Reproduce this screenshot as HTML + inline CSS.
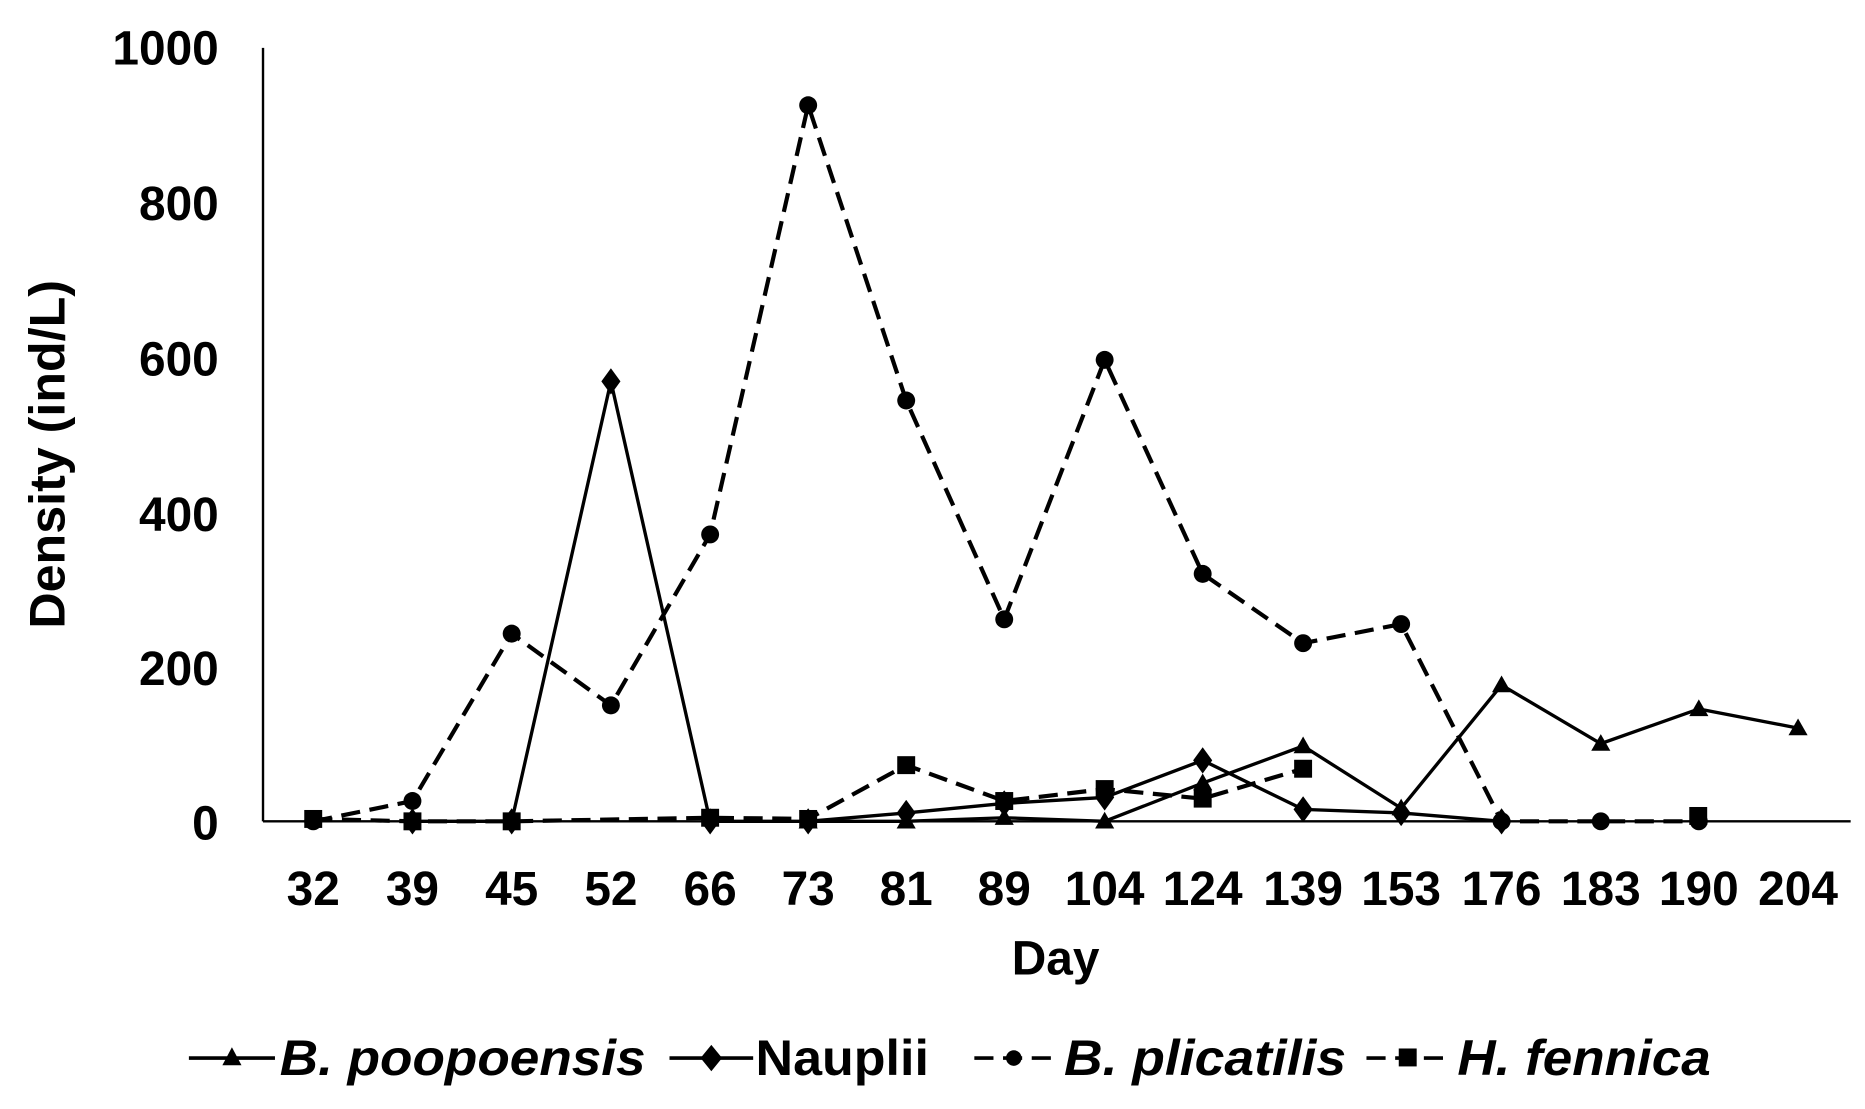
<!DOCTYPE html>
<html><head><meta charset="utf-8"><style>html,body{margin:0;padding:0;background:#fff}svg{display:block}</style></head>
<body>
<svg width="1865" height="1109" viewBox="0 0 1560 927.6" xmlns="http://www.w3.org/2000/svg" font-family="Liberation Sans, Arial, sans-serif" font-weight="bold">
<defs>
<marker id="tri" markerWidth="18" markerHeight="18" refX="9" refY="9" markerUnits="userSpaceOnUse"><path d="M9 1 L17 15 L1 15 Z" fill="#000"/></marker>
<marker id="dia" markerWidth="22" markerHeight="22" refX="11" refY="11" markerUnits="userSpaceOnUse"><path d="M11 0 L19 11 L11 22 L3 11 Z" fill="#000"/></marker>
<marker id="cir" markerWidth="18" markerHeight="18" refX="9" refY="9" markerUnits="userSpaceOnUse"><circle cx="9" cy="9" r="7.5" fill="#000"/></marker>
<marker id="sq" markerWidth="18" markerHeight="18" refX="9" refY="9" markerUnits="userSpaceOnUse"><rect x="1.5" y="1.5" width="15" height="15" fill="#000"/></marker>
</defs>
<g stroke="#000" stroke-width="2" fill="none">
<line x1="220" y1="40" x2="220" y2="687"/>
<line x1="220" y1="687" x2="1548" y2="687"/>
</g>
<g font-size="40" text-anchor="end">
<text x="183" y="54">1000</text><text x="183" y="184">800</text><text x="183" y="314">600</text>
<text x="183" y="444">400</text><text x="183" y="573">200</text><text x="183" y="702">0</text>
</g>
<g font-size="40" text-anchor="middle">
<text x="262" y="757">32</text><text x="345" y="757">39</text><text x="428" y="757">45</text><text x="511" y="757">52</text>
<text x="594" y="757">66</text><text x="676" y="757">73</text><text x="758" y="757">81</text><text x="840" y="757">89</text>
<text x="924" y="757">104</text><text x="1006" y="757">124</text><text x="1090" y="757">139</text><text x="1172" y="757">153</text>
<text x="1256" y="757">176</text><text x="1339" y="757">183</text><text x="1421" y="757">190</text><text x="1504" y="757">204</text>
<text x="883" y="815">Day</text>
<text transform="translate(54 380) rotate(-90)" font-size="42">Density (ind/L)</text>
</g>
<g fill="none" stroke="#000">
<polyline stroke-width="3.5" stroke-dasharray="16 8" marker-start="url(#cir)" marker-mid="url(#cir)" marker-end="url(#cir)" points="262,687 345,670 428,530 511,590 594,447 676,88 758,335 840,518 924,301 1006,480 1090,538 1172,522 1256,687 1339,687 1421,687"/>
<polyline stroke-width="3.5" stroke-dasharray="16 8" marker-start="url(#sq)" marker-mid="url(#sq)" marker-end="url(#sq)" points="262,685 345,687 428,687 594,684 676,685 758,640 840,670 924,660 1006,668 1090,643"/>
<polyline stroke-width="2.8" marker-mid="url(#dia)" marker-start="url(#dia)" marker-end="url(#dia)" points="345,687 428,687 511,319 594,687 676,687 758,680 840,672 924,667 1006,636 1090,677 1172,680 1256,687"/>
<polyline stroke-width="2.8" marker-start="url(#tri)" marker-mid="url(#tri)" marker-end="url(#tri)" points="676,687 758,687 840,684 924,687 1006,655 1090,624 1172,676 1256,573 1339,622 1421,593 1504,609"/>
<rect x="1413" y="675" width="15" height="15" fill="#000" stroke="none"/>
</g>
<g stroke="#000" stroke-width="3">
<line x1="158" y1="885" x2="230" y2="885"/>
<line x1="560" y1="885" x2="630" y2="885"/>
<line x1="815" y1="885" x2="882" y2="885" stroke-dasharray="16 8"/>
<line x1="1143" y1="885" x2="1212" y2="885" stroke-dasharray="16 8"/>
</g>
<path d="M194 876 L202 891 L186 891 Z"/>
<path d="M595 874 L604 885 L595 896 L586 885 Z"/>
<circle cx="848" cy="885" r="6.5"/>
<rect x="1170" y="877" width="15" height="15"/>
<g font-size="42">
<text x="234" y="899" font-style="italic" textLength="306" lengthAdjust="spacingAndGlyphs">B. poopoensis</text>
<text x="632" y="899" textLength="145" lengthAdjust="spacingAndGlyphs">Nauplii</text>
<text x="890" y="899" font-style="italic" textLength="236" lengthAdjust="spacingAndGlyphs">B. plicatilis</text>
<text x="1219" y="899" font-style="italic" textLength="212" lengthAdjust="spacingAndGlyphs">H. fennica</text>
</g>
</svg>
</body></html>
